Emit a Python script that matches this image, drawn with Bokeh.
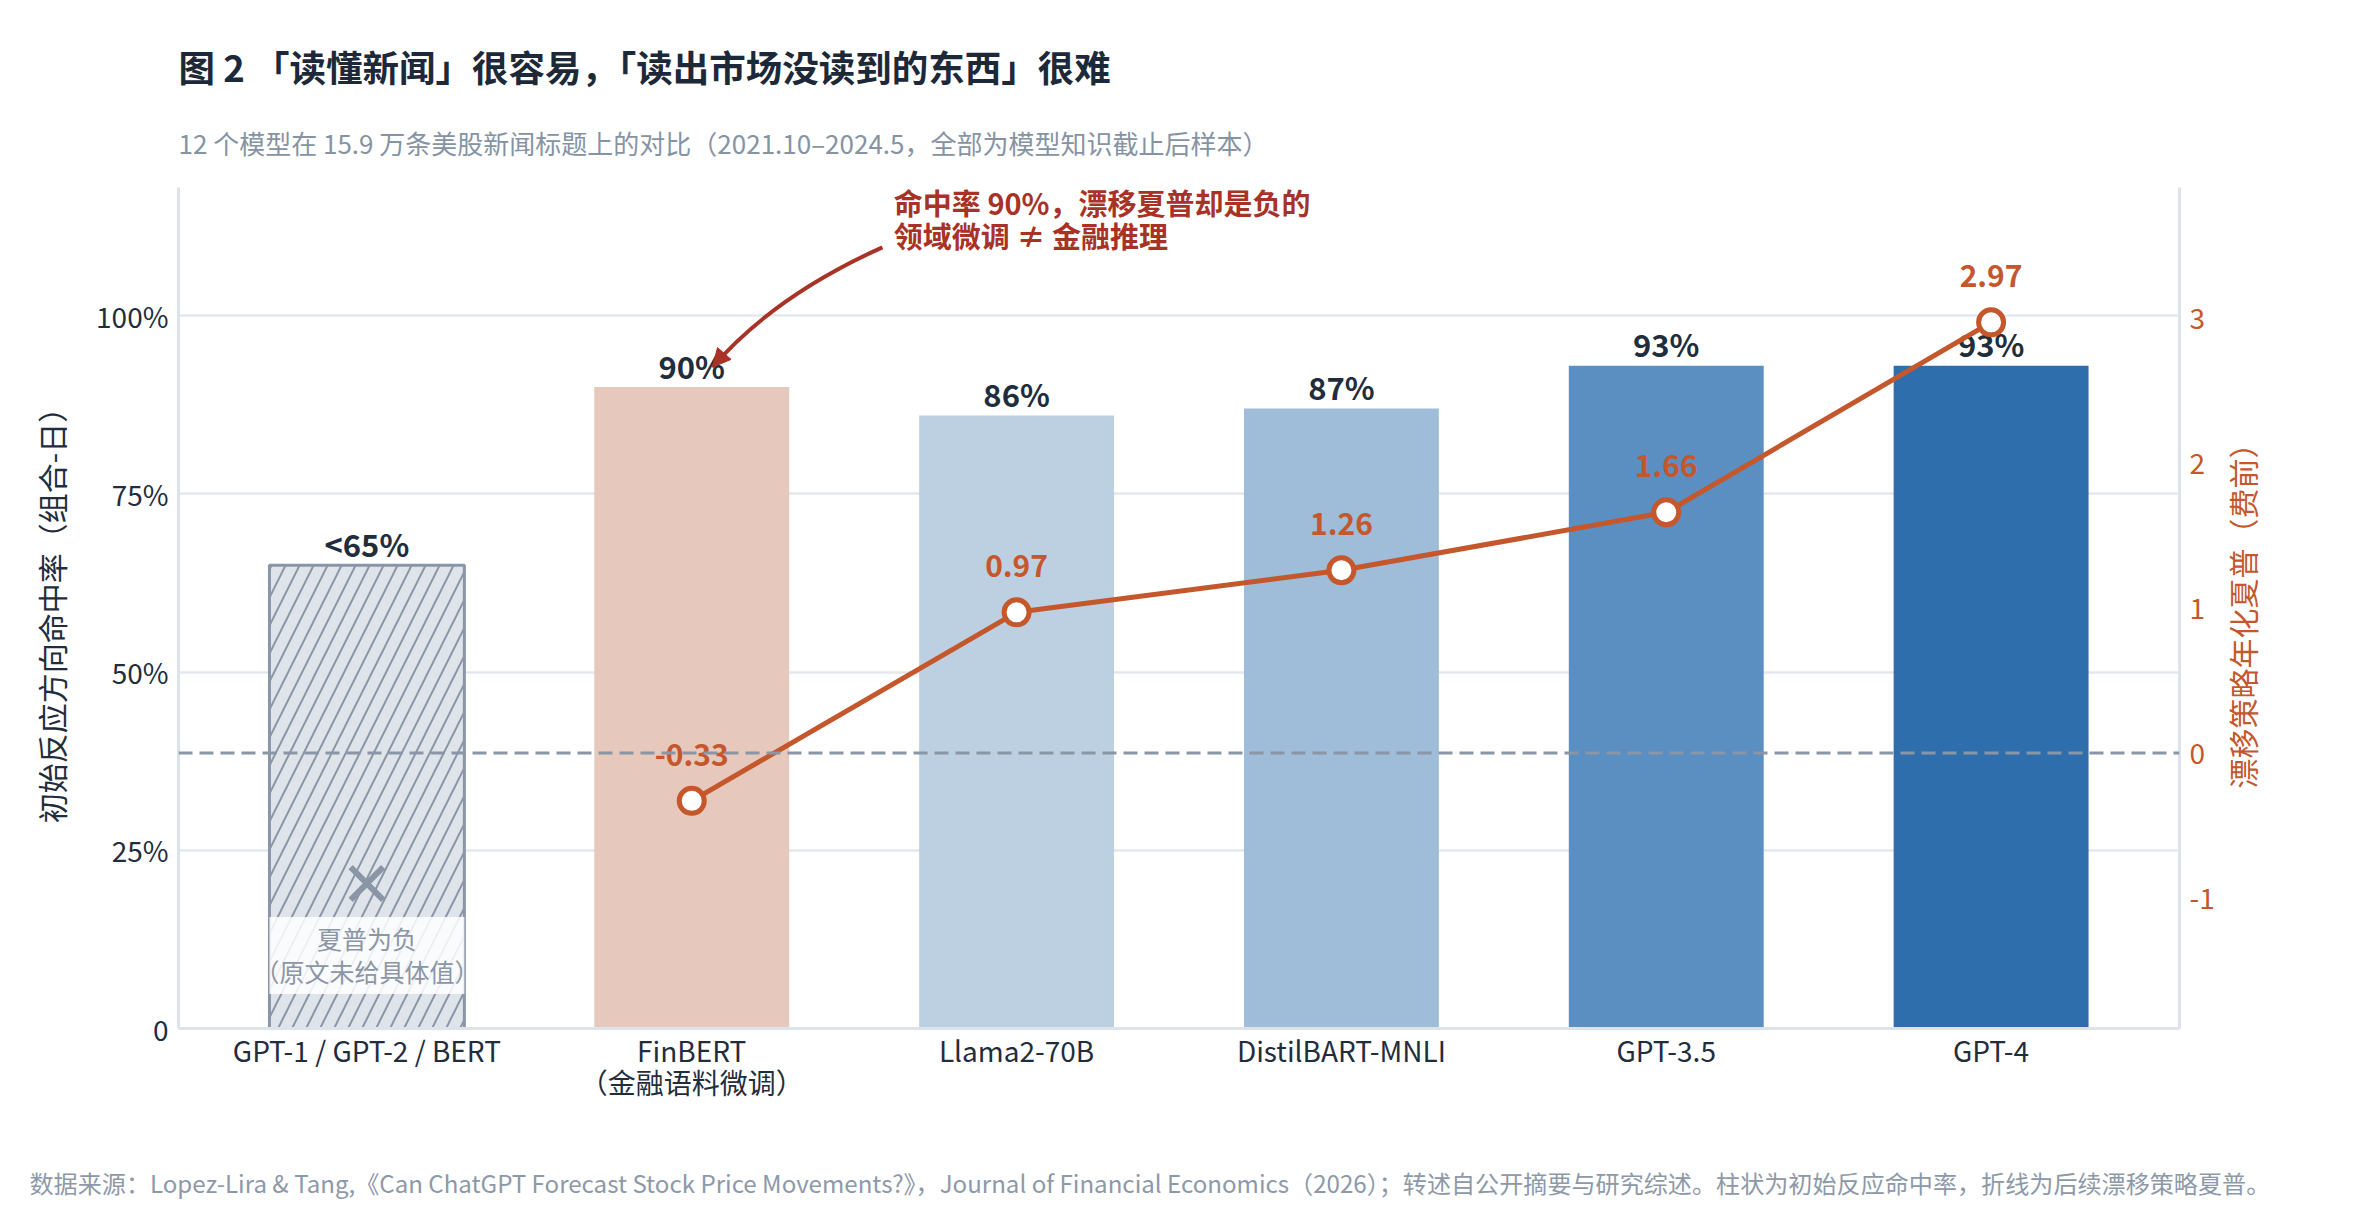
import math
from bokeh.plotting import figure
from bokeh.models import (FactorRange, Range1d, LinearAxis, FixedTicker, CustomJSTickFormatter,
                          Span, Label, Arrow, NormalHead, Title)
from bokeh.core.properties import value
from bokeh.embed import file_html
from bokeh.resources import INLINE

FONT = "Noto Sans CJK SC"

# ---------------- data ----------------
models = ["GPT-1 / GPT-2 / BERT", "FinBERT\n（金融语料微调）", "Llama2-70B",
          "DistilBART-MNLI", "GPT-3.5", "GPT-4"]
hit_rate = [65, 90, 86, 87, 93, 93]
hit_labels = ["<65%", "90%", "86%", "87%", "93%", "93%"]
sharpe_models = models[1:]
sharpe = [-0.33, 0.97, 1.26, 1.66, 2.97]
sharpe_labels = ["-0.33", "0.97", "1.26", "1.66", "2.97"]
neg_sharpe_placeholder = [-0.9]          # first group: Sharpe negative, value not given
left_ticks = [0, 25, 50, 75, 100]
right_ticks = [-1, 0, 1, 2, 3]
bar_colors = ["#dfe4eb", "#e6c8bd", "#bdd0e2", "#9fbcd8", "#5b8fc1", "#2f6eac"]

TITLE = "图 2  「读懂新闻」很容易，「读出市场没读到的东西」很难"
SUBTITLE = "12 个模型在 15.9 万条美股新闻标题上的对比（2021.10–2024.5，全部为模型知识截止后样本）"
SOURCE = ("数据来源：Lopez-Lira & Tang,《Can ChatGPT Forecast Stock Price Movements?》，"
          "Journal of Financial Economics（2026）；转述自公开摘要与研究综述。柱状为初始反应命中率，折线为后续漂移策略夏普。")
YLABEL = "初始反应方向命中率（组合-日）"
Y2LABEL = "漂移策略年化夏普（费前）"
NOTE = ["夏普为负", "（原文未给具体值）"]
CALLOUT = ["命中率 90%，漂移夏普却是负的", "领域微调 ≠ 金融推理"]

# ---------------- colours ----------------
DARK = "#1f2d3d"
GRAY = "#8a96a6"
ORANGE = "#c4572b"
RED = "#a93226"
AXIS = "#dde3ea"

W, H = 2340, 1200
ML, MR, MT, MB = 178, 161, 187, 172

p = figure(x_range=FactorRange(factors=models, range_padding=0.08, range_padding_units="absolute"),
           y_range=Range1d(0, 118), width=W, height=H, title=None,
           output_backend="svg", toolbar_location=None,
           min_border_left=ML, min_border_right=MR, min_border_top=MT, min_border_bottom=MB)
p.extra_y_ranges = {"sharpe": Range1d(-1.9, 3.9)}
p.outline_line_color = None
p.background_fill_color = "white"
p.border_fill_color = "white"

# axes
p.xaxis.major_label_text_font = FONT
p.xaxis.major_label_text_font_size = "28px"
p.xaxis.major_label_text_color = DARK
p.xaxis.major_label_text_line_height = 0.82
p.xaxis.axis_line_color = AXIS
p.xaxis.axis_line_width = 3
p.xaxis.major_tick_line_color = None
p.xaxis.minor_tick_line_color = None
p.xaxis.major_tick_out = 0
p.xaxis.major_label_standoff = 1
# blank spacer label: keeps room between the category labels and the source line
p.xaxis.axis_label = "\u3000"
p.xaxis.axis_label_text_font = FONT
p.xaxis.axis_label_text_font_size = "30px"
p.xaxis.axis_label_standoff = 16

p.yaxis.ticker = FixedTicker(ticks=left_ticks)
p.yaxis.formatter = CustomJSTickFormatter(code="return tick == 0 ? '0' : tick + '%';")
p.yaxis.major_label_text_font = FONT
p.yaxis.major_label_text_font_size = "28px"
p.yaxis.major_label_text_color = DARK
p.yaxis.axis_line_color = AXIS
p.yaxis.axis_line_width = 3
p.yaxis.major_tick_line_color = None
p.yaxis.minor_tick_line_color = None
p.yaxis.major_tick_out = 0
p.yaxis.major_label_standoff = 10
p.yaxis.axis_label = YLABEL
p.yaxis.axis_label_text_font = FONT
p.yaxis.axis_label_text_font_size = "30px"
p.yaxis.axis_label_text_font_style = "normal"
p.yaxis.axis_label_text_color = DARK
p.yaxis.axis_label_standoff = 20

ax2 = LinearAxis(y_range_name="sharpe", ticker=FixedTicker(ticks=right_ticks),
                 formatter=CustomJSTickFormatter(code="return String(tick);"))
ax2.major_label_text_font = FONT
ax2.major_label_text_font_size = "28px"
ax2.major_label_text_color = ORANGE
ax2.axis_line_color = AXIS
ax2.axis_line_width = 3
ax2.major_tick_line_color = None
ax2.minor_tick_line_color = None
ax2.major_tick_out = 0
ax2.major_label_standoff = 10
# rotated to read bottom-to-top; label starts near the bottom of the axis
ax2.axis_label = "\u3000" * 8 + Y2LABEL
ax2.axis_label_orientation = math.pi / 2
ax2.axis_label_align = "start"
ax2.axis_label_text_font = FONT
ax2.axis_label_text_font_size = "30px"
ax2.axis_label_text_font_style = "normal"
ax2.axis_label_text_color = ORANGE
ax2.axis_label_standoff = 24
p.add_layout(ax2, "right")

p.xgrid.grid_line_color = None
p.ygrid.ticker = FixedTicker(ticks=left_ticks[1:])
p.ygrid.grid_line_color = "#e4e8ee"
p.ygrid.grid_line_width = 2.5

# bars
p.vbar(x=models[1:], top=hit_rate[1:], width=0.6, bottom=0,
       fill_color=bar_colors[1:], line_color=None)
p.vbar(x=models[:1], top=hit_rate[:1], width=0.6, bottom=0,
       fill_color=bar_colors[0], line_color=GRAY, line_width=3,
       hatch_pattern="/", hatch_color=GRAY, hatch_weight=2, hatch_scale=28)

# marker for "negative sharpe" (no value)
p.scatter(x=models[:1], y=neg_sharpe_placeholder, y_range_name="sharpe", marker="x",
          size=46, line_color=GRAY, line_width=6)

# note box and text on the first bar
p.rect(x=models[:1], y=[10.25], width=0.6, height=10.8,
       fill_color="white", fill_alpha=0.85, line_color=None)
p.text(x=[models[0], models[0]], y=[12.7, 8.1], text=NOTE,
       text_font=value(FONT), text_font_size="25px", text_color=GRAY,
       text_align="center", text_baseline="middle")

# bar labels
p.text(x=models, y=hit_rate, text=hit_labels, y_offset=-22,
       text_font=value(FONT), text_font_size="31px", text_font_style="bold",
       text_color=DARK, text_align="center", text_baseline="middle")

# zero line of sharpe axis
p.add_layout(Span(location=0, dimension="width", y_range_name="sharpe",
                  line_color=GRAY, line_width=3, line_dash="14 7"))

# sharpe line
p.line(x=sharpe_models, y=sharpe, y_range_name="sharpe", line_color=ORANGE, line_width=5)
p.scatter(x=sharpe_models, y=sharpe, y_range_name="sharpe", size=25,
          fill_color="white", line_color=ORANGE, line_width=5)
p.text(x=sharpe_models, y=sharpe, text=sharpe_labels, y_range_name="sharpe", y_offset=-46,
       text_font=value(FONT), text_font_size="30px", text_font_style="bold",
       text_color=ORANGE, text_align="center", text_baseline="middle")

# callout pointing to FinBERT label
fin = models.index("FinBERT\n（金融语料微调）") + 0.5
tip_x, tip_y = fin + 0.064, 92.8
start_x, start_y = fin + 0.587, 109.6
ctrl_x, ctrl_y = fin + 0.254, 102.8
p.quadratic(x0=[start_x], y0=[start_y], x1=[tip_x], y1=[tip_y], cx=[ctrl_x], cy=[ctrl_y],
            line_color=RED, line_width=4)
p.add_layout(Arrow(end=NormalHead(size=18, fill_color=RED, line_color=RED, line_width=1),
                   x_start=tip_x + 0.1 * (ctrl_x - tip_x), y_start=tip_y + 0.1 * (ctrl_y - tip_y),
                   x_end=tip_x, y_end=tip_y, line_color=RED, line_width=4))
for txt, yy in zip(CALLOUT, [116.0, 111.3]):
    p.add_layout(Label(x=fin + 0.622, y=yy, text=txt, text_font=FONT, text_font_size="29px",
                       text_font_style="bold", text_color=RED,
                       text_align="left", text_baseline="middle"))

# title, subtitle (above) and source (below)
p.add_layout(Title(text=SUBTITLE, align="left", vertical_align="middle", offset=0, standoff=52,
                   text_font=FONT, text_font_size="26px", text_font_style="normal",
                   text_color="#8593a3"), "above")
p.add_layout(Title(text=TITLE, align="left", vertical_align="middle", offset=0, standoff=6,
                   text_font=FONT, text_font_size="36.5px", text_font_style="bold",
                   text_color="#1d2939"), "above")
p.add_layout(Title(text=SOURCE, align="left", vertical_align="bottom", offset=-149, standoff=-11,
                   text_font=FONT, text_font_size="24.1px", text_font_style="normal",
                   text_color="#8d99a8"), "below")

open("out.html", "w").write(file_html(p, INLINE))
